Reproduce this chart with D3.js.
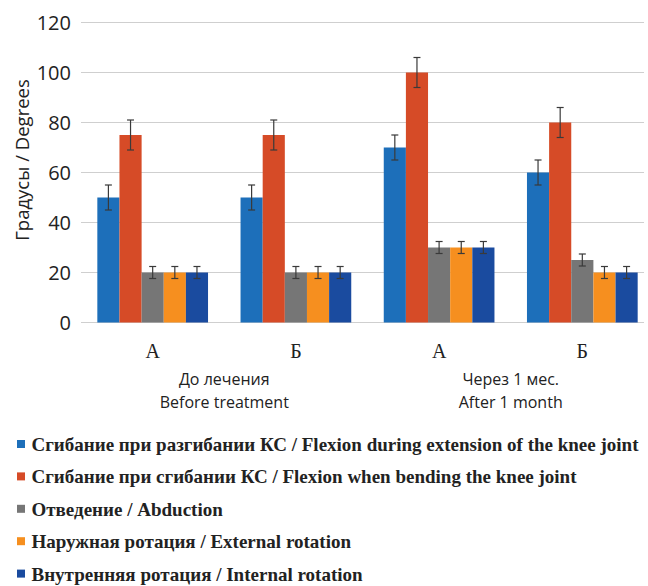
<!DOCTYPE html>
<html>
<head>
<meta charset="utf-8">
<script src="https://cdn.jsdelivr.net/npm/d3@7"></script>
<style>
  body { margin: 0; background: #fff; }
  svg { display: block; }
</style>
</head>
<body>
<svg id="chart" width="648" height="586"></svg>
<script>
// groups along the x axis
const groupLabels = ["А", "Б", "А", "Б"];
const periodLabels = [["До лечения", "Before treatment"], ["Через 1 мес.", "After 1 month"]];

// series
const seriesNames = [
  "Сгибание при разгибании КС / Flexion during extension of the knee joint",
  "Сгибание при сгибании КС / Flexion when bending the knee joint",
  "Отведение / Abduction",
  "Наружная ротация / External rotation",
  "Внутренняя ротация / Internal rotation"
];
const seriesColors = ["#1d6fba", "#d64b27", "#767676", "#f68f1f", "#1a4b9f"];

const flexExtension = [50, 50, 70, 60];
const flexExtensionErr = [5, 5, 5, 5];
const flexBending = [75, 75, 100, 80];
const flexBendingErr = [6, 6, 6, 6];
const abduction = [20, 20, 30, 25];
const abductionErr = [2.4, 2.4, 2.4, 2.4];
const externalRot = [20, 20, 30, 20];
const externalRotErr = [2.4, 2.4, 2.4, 2.4];
const internalRot = [20, 20, 30, 20];
const internalRotErr = [2.4, 2.4, 2.4, 2.4];

const yTicks = [0, 20, 40, 60, 80, 100, 120];

const values = [flexExtension, flexBending, abduction, externalRot, internalRot];
const errors = [flexExtensionErr, flexBendingErr, abductionErr, externalRotErr, internalRotErr];

const svg = d3.select("#chart");

const y = d3.scaleLinear().domain([0, 120]).range([322.5, 22.5]);
const x0 = d3.scaleBand().domain(d3.range(groupLabels.length))
  .range([81, 654]).paddingInner(0.227).paddingOuter(0.114);
const x1 = d3.scaleBand().domain(d3.range(seriesNames.length))
  .range([0, x0.bandwidth()]);

// gridlines
svg.append("g").selectAll("line").data(yTicks).enter().append("line")
  .attr("x1", 81).attr("x2", 644)
  .attr("y1", d => y(d)).attr("y2", d => y(d))
  .attr("stroke", "#cfcfcf").attr("stroke-width", 1.2);

// y axis labels
const yAxis = d3.axisLeft(y).tickValues(yTicks).tickSize(0).tickPadding(0);
const ya = svg.append("g").attr("transform", "translate(71,0)").call(yAxis);
ya.select(".domain").remove();
ya.selectAll("text")
  .attr("font-family", "'Open Sans', sans-serif")
  .attr("font-size", 20)
  .attr("fill", "#222")
  .attr("dy", "0.36em");

svg.append("text")
  .attr("transform", "translate(29,160) rotate(-90)")
  .attr("text-anchor", "middle")
  .attr("font-family", "'Open Sans', sans-serif")
  .attr("font-size", 18.5)
  .attr("fill", "#222")
  .text("Градусы / Degrees");

// bars
const cells = [];
values.forEach((vals, s) => vals.forEach((v, g) => cells.push({s, g, v, e: errors[s][g]})));

svg.append("g").selectAll("rect").data(cells).enter().append("rect")
  .attr("x", d => x0(d.g) + x1(d.s))
  .attr("width", x1.bandwidth())
  .attr("y", d => y(d.v))
  .attr("height", d => y(0) - y(d.v))
  .attr("fill", d => seriesColors[d.s]);

// error bars
const eb = svg.append("g").attr("stroke", "#3a3a3a").attr("stroke-width", 1.2);
cells.forEach(d => {
  const cx = x0(d.g) + x1(d.s) + x1.bandwidth() / 2;
  eb.append("line").attr("x1", cx).attr("x2", cx).attr("y1", y(d.v + d.e)).attr("y2", y(d.v - d.e));
  eb.append("line").attr("x1", cx - 3.5).attr("x2", cx + 3.5).attr("y1", y(d.v + d.e)).attr("y2", y(d.v + d.e));
  eb.append("line").attr("x1", cx - 3.5).attr("x2", cx + 3.5).attr("y1", y(d.v - d.e)).attr("y2", y(d.v - d.e));
});

// x labels
svg.append("g").selectAll("text").data(groupLabels).enter().append("text")
  .attr("x", (d, i) => x0(i) + x0.bandwidth() / 2)
  .attr("y", 358)
  .attr("text-anchor", "middle")
  .attr("font-family", "'Liberation Serif', serif")
  .attr("font-size", 20)
  .attr("fill", "#222")
  .text(d => d);

periodLabels.forEach((lines, p) => {
  const cx = (x0(p * 2) + x0(p * 2 + 1) + x0.bandwidth()) / 2;
  lines.forEach((t, k) => {
    svg.append("text")
      .attr("x", cx).attr("y", 384.5 + k * 23.5)
      .attr("text-anchor", "middle")
      .attr("font-family", "'Open Sans', sans-serif")
      .attr("font-size", 16)
      .attr("fill", "#222")
      .text(t);
  });
});

// legend
const legend = svg.append("g").selectAll("g").data(seriesNames).enter().append("g")
  .attr("transform", (d, i) => "translate(0," + (444 + i * 32.4) + ")");
legend.append("rect")
  .attr("x", 17).attr("y", -4).attr("width", 8).attr("height", 8)
  .attr("fill", (d, i) => seriesColors[i]);
legend.append("text")
  .attr("x", 31.5).attr("y", 7)
  .attr("font-family", "'Liberation Serif', serif")
  .attr("font-weight", "bold")
  .attr("font-size", 19)
  .attr("fill", "#222")
  .text(d => d);
</script>
</body>
</html>
